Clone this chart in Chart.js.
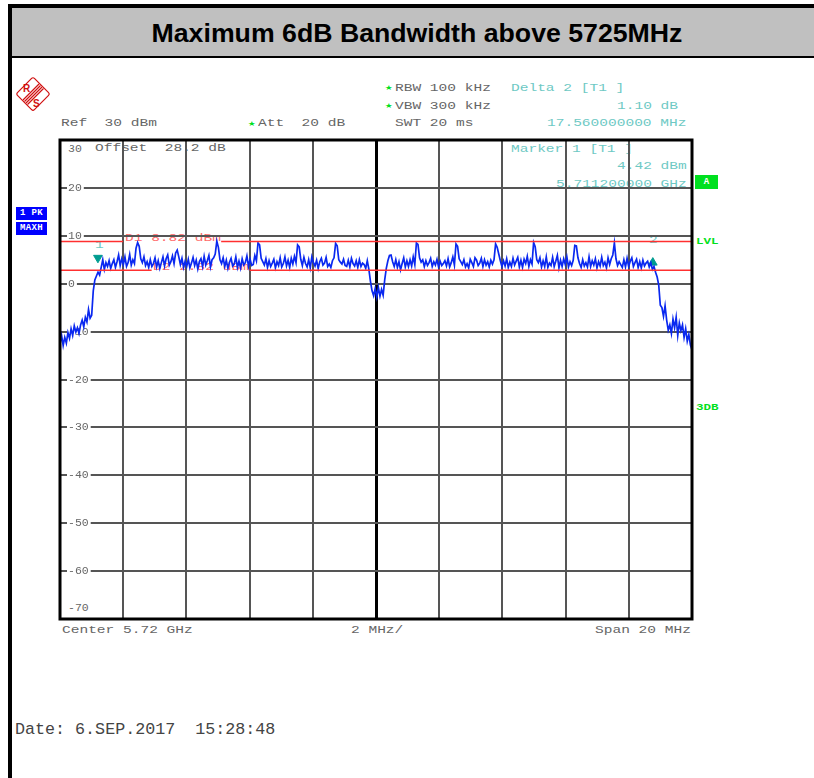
<!DOCTYPE html>
<html>
<head>
<meta charset="utf-8">
<title>Maximum 6dB Bandwidth above 5725MHz</title>
<script src="https://cdn.jsdelivr.net/npm/chart.js@4"></script>
<style>
  html,body{margin:0;padding:0;background:#fff;width:814px;height:778px;overflow:hidden;}
  #head{position:absolute;left:8px;top:4px;width:806px;height:48px;background:#c0c0c0;border-top:4px solid #000;border-bottom:2px solid #000;
    font:bold 26.7px "Liberation Sans",Arial,sans-serif;color:#000;line-height:50px;text-align:center;text-indent:12px;}
  #frameLeft{position:absolute;left:8px;top:4px;width:4px;height:774px;background:#000;}
  .t{position:absolute;white-space:pre;font-family:"Liberation Mono",monospace;font-size:11px;line-height:12px;transform-origin:left center;transform:scaleX(1.32);color:#666;}
  .c{color:#6ec9c4;}
  .r{color:#ff6a6a;}
  .g{color:#00e020;font-weight:bold;font-size:9.5px;}
  .n{transform:none;font-size:11.5px;}
  .badge{position:absolute;left:16px;width:31px;height:13px;background:#0000ff;color:#fff;font:bold 9px/13px "Liberation Mono",monospace;letter-spacing:.4px;text-align:center;overflow:hidden;}
  #badgeA{position:absolute;left:695px;top:175px;width:23px;height:14px;background:#00e020;color:#fff;font:bold 9px/14px "Liberation Mono",monospace;text-align:center;}
  #date{position:absolute;left:15px;top:720px;white-space:pre;font:16.7px/20px "Liberation Mono",monospace;color:#444;}
  #logo{position:absolute;left:14px;top:76px;}
  #chart{position:absolute;left:0;top:0;}
</style>
</head>
<body>
<div id="head">Maximum 6dB Bandwidth above 5725MHz</div>
<div id="frameLeft"></div>
<svg id="logo" width="38" height="36" viewBox="0 0 38 36">
  <g fill="none" stroke="#d01010" stroke-width="1.2">
    <rect x="7" y="6" width="24" height="24" rx="2" transform="rotate(45 19 18)"/>
    <path d="M9 24 L25 8 M10.5 25.5 L26.5 9.5 M12 27 L28 11 M13.5 28.5 L29.5 12.5"/>
  </g>
  <text x="9" y="16" font-family="Liberation Sans" font-weight="bold" font-size="10" fill="#d01010">R</text>
  <text x="19" y="31" font-family="Liberation Sans" font-weight="bold" font-size="10" fill="#d01010">S</text>
</svg>
<div class="badge" style="top:207px">1 PK</div>
<div class="badge" style="top:222px">MAXH</div>
<div id="badgeA">A</div>
<div id="labels"></div>
<div id="date">Date: 6.SEP.2017  15:28:48</div>
<canvas id="chart" width="814" height="778"></canvas>
<script>
/* ---- spectrum trace, dBm left to right ---- */
const traceLevel = [
  -12.6,-10.8,-12.9,-11.2,-12.4,-10.2,-11.4,-9.4,-10.8,-8.8,-10.1,-9.2,-10.4,-8.6,-7.6,-9.0,-7.0,-8.0,-5.4,-7.2,-6.6,
  -1.5,0.8,1.6,2.4,1.8,3.4,5.0,3.0,4.4,3.6,4.8,3.2,4.2,5.0,3.4,4.6,6.0,3.8,5.2,4.0,5.6,3.6,4.4,6.1,3.9,5.0,4.2,7.4,
  8.6,7.8,5.2,4.4,5.6,3.8,4.6,3.4,5.0,3.6,4.2,5.4,3.5,4.8,3.2,4.4,5.6,3.7,5.2,6.0,3.9,4.6,5.8,4.2,6.4,
  7.0,5.6,4.0,5.3,3.4,4.7,3.6,5.1,3.3,4.3,5.5,3.8,4.9,3.1,4.6,5.2,3.6,5.7,3.9,4.8,5.9,3.5,5.0,5.4,6.2,
  8.9,7.6,5.0,4.2,5.4,3.6,4.9,3.2,4.5,5.3,3.7,4.1,5.6,3.4,4.7,3.3,5.2,3.9,4.4,5.8,3.6,5.1,3.8,4.0,5.9,4.8,
  8.5,8.1,5.3,4.6,3.9,5.2,3.4,4.8,3.6,4.3,5.1,3.3,4.6,3.8,5.4,3.5,4.2,5.6,3.7,4.9,3.4,5.3,4.1,5.7,4.4,
  8.1,7.7,5.1,3.8,5.5,4.2,3.5,5.0,3.3,5.6,4.4,3.7,4.9,3.2,4.6,5.3,3.9,4.3,5.5,3.6,4.1,3.4,4.8,5.4,
  8.4,7.9,5.0,4.5,4.1,5.1,3.8,3.6,4.9,3.5,5.3,4.2,3.7,4.8,3.4,5.0,3.6,4.3,4.0,3.2,
  4.8,3.0,0.5,-1.5,-2.5,-1.0,-2.8,-0.8,-2.6,-1.2,-2.4,0.8,3.2,4.8,5.9,6.0,4.6,3.6,5.0,3.4,4.6,
  2.9,4.2,5.4,3.5,4.8,3.6,5.0,3.7,5.6,4.0,8.5,8.2,5.4,4.5,5.0,3.6,4.8,3.8,4.4,5.3,3.6,4.6,3.9,5.1,3.5,4.7,3.8,4.2,
  4.8,3.7,5.2,3.5,4.4,5.6,3.9,8.3,7.8,5.2,4.6,4.0,5.0,3.5,4.2,3.3,5.1,4.4,3.6,5.4,4.9,3.8,4.3,5.3,3.6,5.0,3.9,4.6,3.5,4.9,
  4.1,5.0,8.3,7.6,6.2,4.8,3.6,4.8,3.7,5.2,3.4,4.5,3.6,5.3,3.9,4.7,5.5,3.5,4.9,3.4,5.1,4.2,5.7,3.6,5.0,4.1,
  8.6,7.7,5.0,4.4,5.4,3.5,4.8,3.6,5.6,3.4,4.3,3.8,5.5,3.6,4.7,5.9,3.3,4.9,3.6,5.2,4.0,5.6,3.5,4.6,3.8,
  4.9,8.0,7.9,5.4,4.2,3.4,5.0,3.7,4.4,3.5,5.6,3.6,4.8,3.9,5.2,3.3,4.6,3.7,5.5,3.8,4.5,3.3,5.4,4.0,
  5.2,6.0,8.5,5.2,3.8,4.6,4.0,3.4,5.0,3.5,5.3,3.6,4.7,5.4,3.6,4.4,5.1,3.4,4.6,3.3,4.9,3.7,4.3,4.7,3.5,4.4,3.0,
  3.6,2.4,1.4,-0.3,-4.5,-5.0,-6.8,-4.6,-7.6,-9.7,-8.6,-10.4,-7.4,-9.2,-7.0,-10.8,-8.2,-9.8,-8.6,-11.2,-9.4,-12.0,-10.6,-12.8,-13.8
];
const startFreq = 5710, stopFreq = 5730, sweepStep = (stopFreq-startFreq)/(traceLevel.length-1);

/* display lines, broken where their labels sit (MHz) */
const d1Level = 8.82, d2Level = 2.82;
const d1Spans = [[5710,5712],[5715.1,5730]];
const d2Spans = [[5710,5712.9],[5716,5730]];

const markerFreq = [5711.2, 5728.76];
const markerLevel = [5.4, 4.4];

const yTicks = [30,20,10,0,-10,-20,-30,-40,-50,-60,-70];
const xCentre = 5720;

/* header / footer text: text, left, centre y, class */
const textRows = [
  ['RBW 100 kHz',395,88,''],['VBW 300 kHz',395,106,''],['SWT 20 ms',395,123,''],
  ['Ref  30 dBm',61,123,''],['Att  20 dB',258,123,''],
  ['Delta 2 [T1 ]',511,88,'c'],['1.10 dB',617,106,'c'],['17.560000000 MHz',547,123,'c'],
  ['Offset  28.2 dB',95,148,''],
  ['Marker 1 [T1 ]',511,149,'c'],['4.42 dBm',617,166,'c'],['5.711200000 GHz',556,184,'c'],
  ['D1 8.82 dBm',125,238,'r'],['D2 2.82 dBm',153,267,'r'],
  ['1',95,245,'c'],['2',649,240,'c'],
  ['30',68,149,'n'],['-70',68,608,'n'],
  ['Center 5.72 GHz',62,630,''],['2 MHz/',351,630,''],['Span 20 MHz',595,630,''],
  ['LVL',696,242,'g'],['3DB',696,408,'g'],
  ['★',385,88,'g'],['★',385,106,'g'],['★',248,124,'g']
];
document.getElementById('labels').innerHTML = textRows.map(r=>
  `<div class="t ${r[3]}" style="left:${r[1]}px;top:${r[2]-6}px">${r[0]}</div>`).join('');

const lineSet = (spans, level) => spans.flatMap((s,i)=>{
  const pts = [{x:s[0],y:level},{x:s[1],y:level}];
  return i ? [{x:s[0],y:null},...pts] : pts;
});

const plotFrame = {
  id:'plotFrame',
  afterDatasetsDraw(c){
    const a = c.chartArea, g = c.ctx;
    g.save(); g.strokeStyle='#000'; g.lineWidth=3;
    g.strokeRect(a.left,a.top,a.right-a.left,a.bottom-a.top);
    g.restore();
  }
};

new Chart(document.getElementById('chart'), {
  type:'line',
  data:{ datasets:[
    {data:lineSet(d1Spans,d1Level), borderColor:'#ff3030', borderWidth:1.5, pointRadius:0, spanGaps:false},
    {data:lineSet(d2Spans,d2Level), borderColor:'#ff3030', borderWidth:1.5, pointRadius:0, spanGaps:false},
    {data:traceLevel.map((v,i)=>({x:startFreq+i*sweepStep,y:v})), borderColor:'#0a28f0', borderWidth:1.7, pointRadius:0, tension:0},
    {data:[{x:markerFreq[0],y:markerLevel[0]}], showLine:false, pointStyle:'triangle', rotation:180, pointRadius:5, backgroundColor:'#009c90', borderColor:'#009c90'},
    {data:[{x:markerFreq[1],y:markerLevel[1]}], showLine:false, pointStyle:'triangle', pointRadius:5, backgroundColor:'#009c90', borderColor:'#009c90'}
  ]},
  options:{
    responsive:false, animation:false, events:[],
    layout:{padding:{left:60,right:122,top:140,bottom:159}},
    plugins:{legend:{display:false},tooltip:{enabled:false},title:{display:false}},
    scales:{
      x:{type:'linear',min:startFreq,max:stopFreq,
        ticks:{display:false,stepSize:2},
        border:{display:false},
        grid:{drawTicks:false,
          color:ctx=>ctx.tick&&ctx.tick.value===xCentre?'#000':'#555',
          lineWidth:ctx=>ctx.tick&&ctx.tick.value===xCentre?3:2}},
      y:{min:yTicks[yTicks.length-1],max:yTicks[0],
        afterBuildTicks:s=>{s.ticks=yTicks.map(v=>({value:v}));},
        afterFit:s=>{s.width=0;},
        border:{display:false},
        grid:{drawTicks:false,color:'#555',lineWidth:2},
        ticks:{mirror:true,padding:8,color:'#666',font:{family:'"Liberation Mono"',size:11.5},
          showLabelBackdrop:true,backdropColor:'#fff',backdropPadding:{top:0,bottom:0,left:1,right:2},
          callback:v=>(v===yTicks[0]||v===yTicks[yTicks.length-1])?'':String(v)}}
    }
  },
  plugins:[plotFrame]
});
</script>
</body>
</html>
